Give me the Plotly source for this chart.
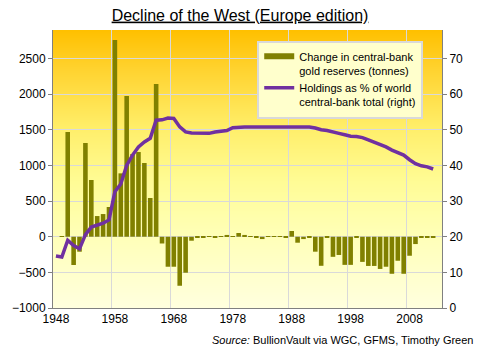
import base64, struct, zlib
import plotly.graph_objects as go

# ---------------- data ----------------
years = list(range(1948, 2014))
reserve_change = [
    0, 10, 1469, -397, -210, 1315, 796, 290, 318, 417,          # 1948-1957
    2760, 889, 1974, 1160, 1188, 1034, 543, 2142, -95, -421,    # 1958-1967
    -421, -688, -505, -56, -10, -10, 10, -10, 10, 25,           # 1968-1977
    10, 52, 25, 10, -10, -33, 10, 10, 10, -10,                  # 1978-1987
    80, -84, -33, -10, -210, -408, -10, -282, -256, -395,       # 1988-1997
    -395, -10, -353, -410, -410, -452, -421, -520, -337, -520,  # 1998-2007
    -267, -103, -10, -5, -5, None                               # 2008-2013
]
holdings_pct = [
    14.6, 14.3, 19.0, 17.5, 16.6, 20.6, 22.7, 23.2, 23.8, 24.7,  # 1948-1957
    32.6, 34.8, 40.0, 42.9, 45.2, 46.6, 47.6, 52.7, 52.8, 53.3,  # 1958-1967
    53.2, 50.8, 49.4, 49.1, 49.0, 49.0, 49.0, 49.4, 49.6, 49.8,  # 1968-1977
    50.6, 50.8, 50.8, 50.8, 50.8, 50.8, 50.8, 50.8, 50.8, 50.8,  # 1978-1987
    50.8, 50.8, 50.8, 50.8, 50.5, 50.0, 49.8, 49.3, 49.0, 48.6,  # 1988-1997
    48.2, 48.1, 47.8, 47.2, 46.6, 45.9, 45.2, 44.3, 43.6, 42.9,  # 1998-2007
    41.6, 40.5, 39.9, 39.6, 39.0, None                           # 2008-2013
]
x_tick_years = [1948, 1958, 1968, 1978, 1988, 1998, 2008]
left_ticks = [-1000, -500, 0, 500, 1000, 1500, 2000, 2500]
right_ticks = [0, 10, 20, 30, 40, 50, 60, 70]

title_text = "Decline of the West (Europe edition)"
bar_name = "Change in central-bank<br>gold reserves (tonnes)"
line_name = "Holdings as % of world<br>central-bank total (right)"
source_text = "<i>Source:</i> BullionVault via WGC, GFMS, Timothy Green"

BAR_COLOR = "#808000"
LINE_COLOR = "#7030A0"
FONT = "Arial, Liberation Sans, sans-serif"


# ---------------- gradient background (PNG data URI) ----------------
def gradient_png(h, stops):
    def col(t):
        for (t0, c0), (t1, c1) in zip(stops[:-1], stops[1:]):
            if t0 <= t <= t1:
                f = (t - t0) / (t1 - t0) if t1 > t0 else 0
                return bytes(int(round(a + (b - a) * f)) for a, b in zip(c0, c1))
        return bytes(stops[-1][1])
    raw = b"".join(b"\x00" + col(i / (h - 1)) * 2 for i in range(h))

    def chunk(tag, data):
        return (struct.pack(">I", len(data)) + tag + data +
                struct.pack(">I", zlib.crc32(tag + data) & 0xffffffff))
    png = (b"\x89PNG\r\n\x1a\n" +
           chunk(b"IHDR", struct.pack(">IIBBBBB", 2, h, 8, 2, 0, 0, 0)) +
           chunk(b"IDAT", zlib.compress(raw)) + chunk(b"IEND", b""))
    return "data:image/png;base64," + base64.b64encode(png).decode()


bg = gradient_png(278, [
    (0.00, (255, 192, 0)),
    (0.15, (255, 212, 50)),
    (0.35, (255, 238, 105)),
    (0.55, (255, 252, 150)),
    (0.75, (255, 255, 185)),
    (1.00, (255, 255, 222)),
])

fig = go.Figure()

fig.add_trace(go.Bar(
    x=years, y=reserve_change, marker=dict(color=BAR_COLOR, line=dict(width=0)),
    name=bar_name, showlegend=False, yaxis="y",
))
fig.add_trace(go.Scatter(
    x=years, y=holdings_pct, mode="lines", yaxis="y2",
    line=dict(color=LINE_COLOR, width=3.5), name=line_name, showlegend=False,
))
# legend proxies (Excel-like wide swatches)
fig.add_trace(go.Scatter(
    x=[None], y=[None], mode="lines", line=dict(color=BAR_COLOR, width=6),
    name=bar_name, showlegend=True,
))
fig.add_trace(go.Scatter(
    x=[None], y=[None], mode="lines", line=dict(color=LINE_COLOR, width=3.5),
    name=line_name, showlegend=True, yaxis="y2",
))

fig.update_layout(
    width=480, height=350,
    margin=dict(l=49, r=38, t=30, b=42),
    paper_bgcolor="white",
    plot_bgcolor="rgba(0,0,0,0)",
    font=dict(family=FONT, size=12, color="black"),
    title=dict(text="<u>" + title_text + "</u>", x=0.5, xref="container",
               y=1 - 15 / 350, yref="container", yanchor="middle",
               xanchor="center", font=dict(size=16, color="black")),
    bargap=0.22,
    images=[dict(source=bg, xref="paper", yref="paper", x=0, y=1,
                 sizex=1, sizey=1, sizing="stretch", layer="below",
                 xanchor="left", yanchor="top")],
    xaxis=dict(
        range=[1947.5, 2013.5], tickmode="array", tickvals=x_tick_years,
        ticktext=[str(v) for v in x_tick_years], showgrid=False,
        showline=True, linecolor="#808080", linewidth=1, ticks="",
        tickfont=dict(size=12), zeroline=False,
        minor=dict(tick0=1947.5, dtick=10, showgrid=True,
                   gridcolor="#D9D9D9", gridwidth=1, ticks=""),
    ),
    yaxis=dict(
        range=[-1000, 2900], tickmode="array", tickvals=left_ticks,
        showgrid=True, gridcolor="#D9D9D9", gridwidth=1, zeroline=False,
        showline=True, linecolor="#808080", linewidth=1,
        ticks="outside", ticklen=4, tickcolor="#808080",
        tickfont=dict(size=12),
    ),
    yaxis2=dict(
        range=[0, 78], tickmode="array", tickvals=right_ticks,
        overlaying="y", side="right", showgrid=False, zeroline=False,
        showline=True, linecolor="#808080", linewidth=1,
        ticks="outside", ticklen=4, tickcolor="#808080",
        tickfont=dict(size=12),
    ),
    legend=dict(
        x=0.525, y=0.962, xanchor="left", yanchor="top",
        bgcolor="#FFFFCC", bordercolor="#D9D9D9", borderwidth=2,
        font=dict(size=11, color="black"), valign="top",
        tracegroupgap=0,
    ),
    annotations=[dict(
        text=source_text, xref="paper", yref="paper",
        x=(475 - 49) / 393, y=(307.7 - 340) / 277.7,
        xanchor="right", yanchor="middle", showarrow=False,
        font=dict(size=11, color="black"),
    )],
)

fig.write_html("out.html")
